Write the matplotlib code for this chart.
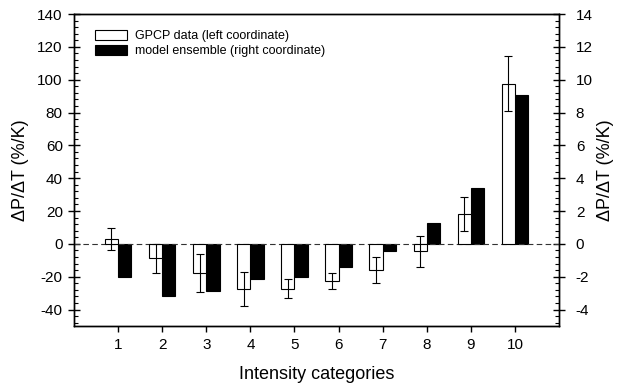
import matplotlib
matplotlib.use("Agg")
import matplotlib.pyplot as plt
from matplotlib.ticker import MultipleLocator
import numpy as np

plt.rcParams['font.family'] = ['Liberation Sans', 'DejaVu Sans']
plt.rcParams['axes.unicode_minus'] = False

categories = [1, 2, 3, 4, 5, 6, 7, 8, 9, 10]
gpcp_values = [3, -8.8, -17.9, -27.5, -27.2, -22.6, -16.1, -4.5, 18.2, 97.6]
gpcp_errors = [6.6, 9.0, 11.7, 10.3, 5.9, 5.0, 8.0, 9.3, 10.3, 16.7]
model_values = [-2.0, -3.15, -2.85, -2.15, -2.0, -1.4, -0.45, 1.25, 3.4, 9.05]

fig = plt.figure(figsize=(6.18, 3.89), dpi=100)
ax = fig.add_axes([0.1197, 0.162, 0.785, 0.802])
ax2 = ax.twinx()

x = np.array(categories, dtype=float)
w = 0.3
ax.bar(x - w/2, gpcp_values, width=w, color='white', edgecolor='black', linewidth=0.8,
       label='GPCP data (left coordinate)', zorder=3)
ax.errorbar(x - w/2, gpcp_values, yerr=gpcp_errors, fmt='none', ecolor='black',
            elinewidth=0.8, capsize=2.6, capthick=0.8, zorder=4)
ax2.bar(x + w/2, model_values, width=w, color='black', edgecolor='black', linewidth=0.8,
        label='model ensemble (right coordinate)', zorder=3)
ax.axhline(0, color='#333333', linestyle=(0, (5, 3)), linewidth=0.8, zorder=2)

ax.set_xlim(0, 11)
ax.set_ylim(-50, 140)
ax2.set_ylim(-5, 14)
ax.set_xticks(categories)
ax.set_yticks(np.arange(-40, 141, 20))
ax2.set_yticks(np.arange(-4, 15, 2))
ax.yaxis.set_minor_locator(MultipleLocator(4))
ax2.yaxis.set_minor_locator(MultipleLocator(0.4))

for a in (ax, ax2):
    for s in a.spines.values():
        s.set_linewidth(1.0)
ax.tick_params(axis='y', which='major', direction='inout', length=8, width=1.0, labelsize=11, pad=4)
ax.tick_params(axis='y', which='minor', direction='in', length=3, width=0.8)
ax2.tick_params(axis='y', which='major', direction='inout', length=8, width=1.0, labelsize=11, pad=8)
ax2.tick_params(axis='y', which='minor', direction='in', length=3, width=0.8)
ax.tick_params(axis='x', which='major', direction='out', length=4, width=1.0, labelsize=11, pad=5)

ax.set_xlabel('Intensity categories', fontsize=13, labelpad=10)
ax.set_ylabel('ΔP/ΔT (%/K)', fontsize=13, labelpad=6)
ax2.set_ylabel('ΔP/ΔT (%/K)', fontsize=13, labelpad=3)

h1, l1 = ax.get_legend_handles_labels()
h2, l2 = ax2.get_legend_handles_labels()
leg = ax.legend(h1 + h2, l1 + l2, loc='upper left', bbox_to_anchor=(0.02, 0.985),
                frameon=False, fontsize=9, handlelength=2.6, handleheight=0.9,
                labelspacing=0.2, handletextpad=0.6)
ax.set_zorder(ax2.get_zorder() + 1)
ax.patch.set_visible(False)

fig.savefig('out.png', dpi=100)
